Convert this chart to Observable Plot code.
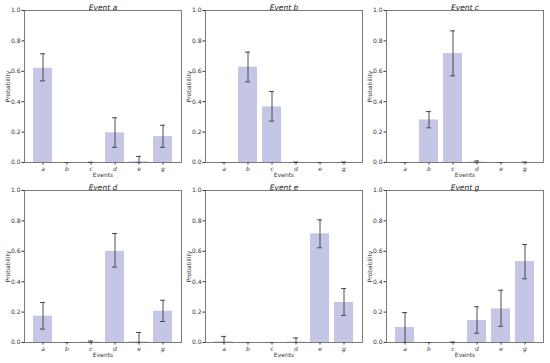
<!DOCTYPE html>
<html>
<head>
<meta charset="utf-8">
<script src="https://cdn.jsdelivr.net/npm/d3@7"></script>
<script src="https://cdn.jsdelivr.net/npm/@observablehq/plot@0.6"></script>
<style>
  html, body { margin: 0; padding: 0; background: #fff; }
  #wrap { position: relative; width: 550px; height: 363px; background: #fff; }
  #wrap svg { position: absolute; }
  [aria-label="x-axis tick label"] text { font-style: italic; }
</style>
</head>
<body>
<div id="wrap"></div>
<script>
const cats = ["a", "b", "c", "d", "e", "g"];
const titles = ["Event a", "Event b", "Event c", "Event d", "Event e", "Event g"];

const probA = [0.62, 0, 0, 0.195, 0.005, 0.17];
const lowA  = [0.537, 0, 0, 0.10, 0, 0.10];
const highA = [0.715, 0, 0.002, 0.294, 0.04, 0.245];

const probB = [0, 0.627, 0.366, 0, 0, 0];
const lowB  = [0, 0.53, 0.272, 0, 0, 0];
const highB = [0, 0.726, 0.467, 0.003, 0, 0.003];

const probC = [0, 0.28, 0.717, 0.003, 0, 0];
const lowC  = [0, 0.228, 0.57, 0, 0, 0];
const highC = [0, 0.335, 0.866, 0.01, 0, 0.003];

const probD = [0.173, 0, 0.003, 0.60, 0.005, 0.206];
const lowD  = [0.088, 0, 0, 0.496, 0, 0.138];
const highD = [0.263, 0, 0.01, 0.717, 0.066, 0.278];

const probE = [0.005, 0, 0, 0.003, 0.715, 0.263];
const lowE  = [0, 0, 0, 0, 0.623, 0.178];
const highE = [0.04, 0, 0, 0.03, 0.807, 0.355];

const probG = [0.099, 0, 0, 0.145, 0.221, 0.533];
const lowG  = [0, 0, 0, 0.061, 0.107, 0.419];
const highG = [0.197, 0, 0.003, 0.235, 0.344, 0.645];

const yTicks = [0, 0.2, 0.4, 0.6, 0.8, 1.0];

const series = [
  [probA, lowA, highA], [probB, lowB, highB], [probC, lowC, highC],
  [probD, lowD, highD], [probE, lowE, highE], [probG, lowG, highG]
];

const wrap = document.getElementById("wrap");
const barColor = "#c5c5e5";
const errColor = "#3a3a3a";
const frameColor = "#5a5a5a";

series.forEach(([p, lo, hi], i) => {
  const rows = cats.map((c, j) => ({cat: c, p: p[j], lo: lo[j], hi: hi[j]}));
  const chart = Plot.plot({
    width: 183,
    height: 181,
    marginLeft: 24,
    marginRight: 2,
    marginTop: 10,
    marginBottom: 19,
    style: {fontFamily: "DejaVu Sans", fontSize: "6px", background: "transparent", overflow: "visible", color: "#333"},
    x: {type: "band", domain: cats, paddingInner: 0.2, paddingOuter: 0.29,
        label: "Events", labelAnchor: "center", labelOffset: 14.5, labelArrow: "none", tickSize: 2.5, tickPadding: 1.5},
    y: {domain: [0, 1], ticks: yTicks, tickFormat: ".1f",
        label: "Probability", labelAnchor: "center", labelOffset: 19, labelArrow: "none", tickSize: 2.5, tickPadding: 1.5},
    marks: [
      Plot.barY(rows, {x: "cat", y: "p", fill: barColor}),
      Plot.ruleX(rows, {x: "cat", y1: "lo", y2: "hi", stroke: errColor, strokeWidth: 0.9}),
      Plot.tickY(rows, {x: "cat", y: "lo", stroke: errColor, strokeWidth: 0.9, inset: 7}),
      Plot.tickY(rows, {x: "cat", y: "hi", stroke: errColor, strokeWidth: 0.9, inset: 7}),
      Plot.frame({stroke: frameColor, strokeWidth: 0.8}),
      Plot.text([titles[i]], {text: d => d, frameAnchor: "top", dy: -6, fontSize: 7.5, fontStyle: "italic", fill: "#222"})
    ]
  });
  const col = i % 3, row = Math.floor(i / 3);
  chart.style.left = (col * 181) + "px";
  chart.style.top = (row * 180) + "px";
  wrap.appendChild(chart);
});
</script>
</body>
</html>
